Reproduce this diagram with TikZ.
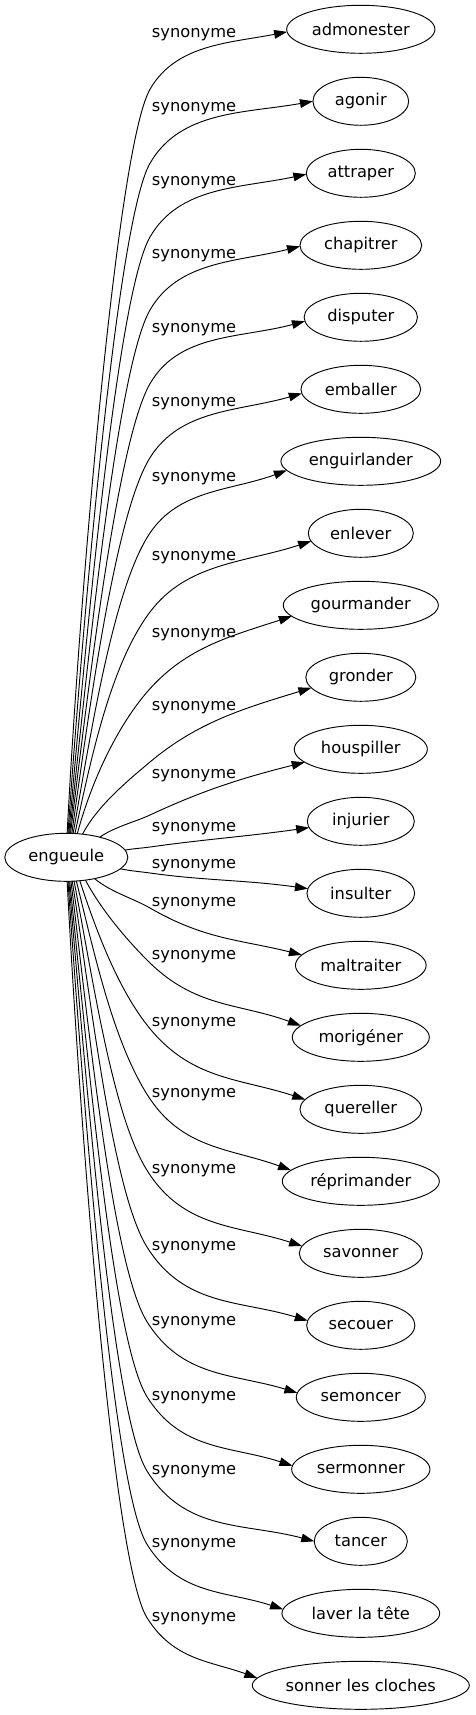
\documentclass[tikz,border=0pt]{standalone}
\usepackage{fontspec}
\setmainfont{DejaVu Sans}
\usetikzlibrary{shapes.geometric,arrows.meta,calc}
\begin{document}
\begin{tikzpicture}[x=0.75pt,y=0.75pt,
  every node/.style={font=\fontsize{12.2}{14}\selectfont},
  word/.style={draw, ellipse, inner sep=0pt, outer sep=0pt, minimum height=36pt, line width=0.7pt},
  lbl/.style={inner sep=0pt, anchor=base west},
  conn/.style={line width=0.7pt, -{Triangle[length=9.75pt,width=6.5pt]}}]
\useasboundingbox (0,0) rectangle (475,-1715);
\node[word, minimum width=92.3pt] (e) at (66.3,-857.3) {engueule};
\foreach \i/\w/\txt in {1/111.2/admonester, 2/71.8/agonir, 3/81.8/attraper, 4/91.3/chapitrer,
  5/85/disputer, 6/89.8/emballer, 7/119.8/enguirlander, 8/78.8/enlever, 9/116.3/gourmander,
  10/82.5/gronder, 11/99.8/houspiller, 12/80.3/injurier, 13/80.8/insulter, 14/98/maltraiter,
  15/102.8/morigéner, 16/91.3/quereller, 17/117.8/réprimander, 18/92.3/savonner, 19/81.2/secouer,
  20/96.8/semoncer, 21/103.7/sermonner, 22/69.8/tancer, 23/118.3/laver la tête, 24/162.8/sonner les cloches}
{
  \node[word, minimum width=\w pt] (n\i) at (360.8,{-(29.3+72*(\i-1))}) {\txt};
}
\foreach \i/\ly/\mx/\my/\sa/\lv/\ma/\ea/\ps/\bb in {
  1/33.3/150/89.3/88/87/60/182.1/11/0.35,
  2/107.3/150/163.3/86/86/60/180/10/0.35,
  3/181/150/237/84/85/60/181.8/12/0.35,
  4/254/150/310/82/84/60/181.3/14/0.35,
  5/327.7/150/383.7/80/83/60/184.5/15/0.35,
  6/401.7/150/457.7/77/82/58/184.9/16/0.35,
  7/477/150/533/74/80/56/187.8/20/0.35,
  8/556/150/612/70/78/53/189.2/18/0.35,
  9/632.7/150/688.7/65/75/48/189.5/18/0.35,
  10/706/150/762/55/62/40/192.7/17/0.35,
  11/774/150/815/31/35/25/193.6/14/0.35,
  12/826.7/150/847/7/10/8/187.8/8/0.35,
  13/864.3/150/873/348/-12/-8/175.7/-8/0.35,
  14/901.7/150/908/323/-40/-30/170.4/-14/0.4,
  15/955/148/961/310/-62/-45/169.4/-20/0.4,
  16/1021.7/147/1025/300/-72/-52/170.9/-18/0.4,
  17/1093.3/147/1094.3/293/-76/-58/171/-20/0.4,
  18/1169.3/147/1170.3/288/-79/-58/173.6/-18/0.4,
  19/1246/147/1247/284/-81/-58/175.7/-17/0.4,
  20/1320.7/147/1321.7/281/-83/-58/176.4/-17/0.4,
  21/1395.7/147/1396.7/278/-84/-58/177.5/-18/0.4,
  22/1470/147/1471/276/-85/-58/180/-15/0.4,
  23/1543.3/147/1544.3/274/-86/-58/177.8/-18/0.4,
  24/1616.7/147/1617.7/272/-87/-58/176.7/-20/0.4}
{
  \node[lbl] (l\i) at (151.7,{-(\ly+4.5)}) {synonyme};
  \draw[conn] let \p1=(e.\sa), \p2=(\mx,-\my), \p3=(n\i.\ea),
      \n1={veclen(\x2-\x1,\y2-\y1)}, \n2={veclen(\x3-\x2,\y3-\y2)} in
    (\p1) .. controls ($(\p1)+(\lv:{0.33*\n1})$) and ($(\p2)+(\ma+180:{min(48.75,0.3*\n1)})$) .. (\p2)
          .. controls ($(\p2)+(\ma:{\bb*\n2})$) and ($(\p3)+(\ps+180:{0.4*\n2})$) .. (\p3);
}
\end{tikzpicture}
\end{document}
